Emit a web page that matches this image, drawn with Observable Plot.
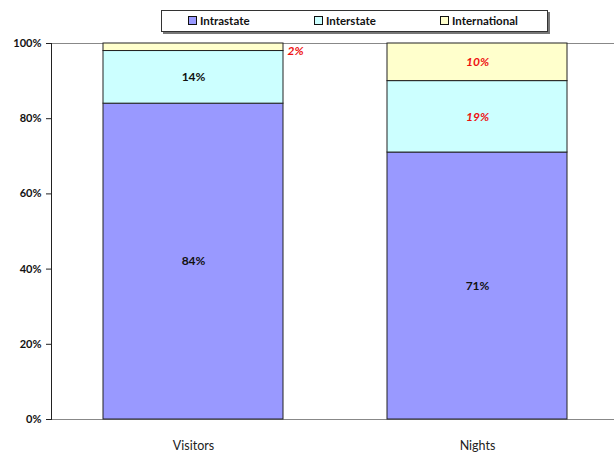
<!DOCTYPE html>
<html>
<head>
<meta charset="utf-8">
<script src="https://cdn.jsdelivr.net/npm/d3@7"></script>
<script src="https://cdn.jsdelivr.net/npm/@observablehq/plot@0.6"></script>
<style>
  html, body { margin: 0; padding: 0; background: #fff; }
  #wrap { position: relative; width: 614px; height: 454px; font-family: Lato, "Open Sans", sans-serif; }
  #legend { position: absolute; left: 161px; top: 10px; width: 385px; height: 20px;
            border: 1px solid #333; background: #fff; box-shadow: 2px 2px 0 #777; }
  .item { position: absolute; top: 3px; font-size: 11.5px; font-weight: bold; color: #111; line-height: 14px; white-space: nowrap; }
  .sw { display: inline-block; width: 7px; height: 7px; border: 1px solid #111; margin-right: 3px; vertical-align: 0px; }
  svg { position: absolute; left: 0; top: 0; }
</style>
</head>
<body>
<div id="wrap"></div>
<script>
const categories = ["Visitors", "Nights"];
const series = ["Intrastate", "Interstate", "International"];
const intrastate = [84, 71];
const interstate = [14, 19];
const international = [2, 10];
const yTicks = [0, 20, 40, 60, 80, 100];
const colors = ["#9999FF", "#CCFFFF", "#FFFFCC"];

const valuesBySeries = [intrastate, interstate, international];
const rows = [];
series.forEach((s, si) => categories.forEach((c, ci) => rows.push({category: c, series: s, value: valuesBySeries[si][ci]})));

const isRed = d => d.series === "International" || (d.category === "Nights" && d.series !== "Intrastate");
const isOutside = d => d.category === "Visitors" && d.series === "International";
const lbl = pred => d => pred(d) ? d.value + "%" : null;

const stackOpts = (extra) => Plot.stackY({x: "category", y: "value", z: "series", order: series, ...extra});

const chart = Plot.plot({
  width: 614,
  height: 454,
  marginTop: 43,
  marginBottom: 35,
  marginLeft: 51,
  marginRight: 0,
  style: {fontFamily: "Lato, 'Open Sans', sans-serif", background: "transparent"},
  x: {domain: categories, range: [51, 619], paddingInner: 0.366, paddingOuter: 0.183, label: null},
  y: {domain: [0, 100], label: null},
  color: {domain: series, range: colors},
  marks: [
    Plot.ruleY([100], {stroke: "#888"}),
    Plot.ruleY([0], {stroke: "#888"}),
    Plot.barY(rows, stackOpts({fill: "series", stroke: "#222", strokeWidth: 1})),
    Plot.text(rows, stackOpts({text: lbl(d => !isRed(d)), fill: "#111", fontWeight: "bold", fontSize: 12})),
    Plot.text(rows, stackOpts({text: lbl(d => isRed(d) && !isOutside(d)), fill: "#ee1111", fontWeight: "bold", fontStyle: "italic", fontSize: 12})),
    Plot.text(rows, stackOpts({text: lbl(isOutside), fill: "#ee1111", fontWeight: "bold", fontStyle: "italic", fontSize: 12, dx: 102, dy: 4})),
    Plot.axisY({ticks: yTicks, tickFormat: d => d + "%", tickSize: 5, tickPadding: 5, fontWeight: "bold", fontSize: 11, stroke: "#222", color: "#111"}),
    Plot.frame({anchor: "left", stroke: "#222"}),
    Plot.axisX({tickSize: 0, tickPadding: 22, fontSize: 12.5, color: "#222"})
  ]
});
document.getElementById("wrap").appendChild(chart);

const legend = document.createElement("div");
legend.id = "legend";
const lefts = [26, 152, 278];
series.forEach((s, i) => {
  const it = document.createElement("div");
  it.className = "item";
  it.style.left = lefts[i] + "px";
  it.innerHTML = `<span class="sw" style="background:${colors[i]}"></span>${s}`;
  legend.appendChild(it);
});
document.getElementById("wrap").appendChild(legend);
</script>
</body>
</html>
